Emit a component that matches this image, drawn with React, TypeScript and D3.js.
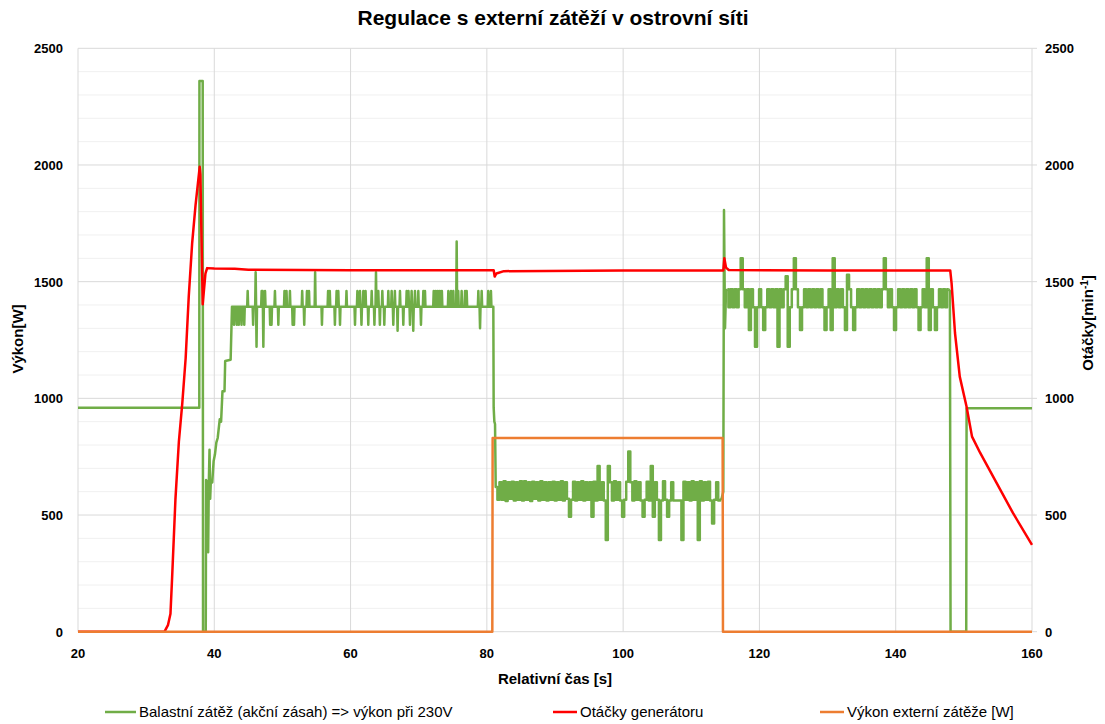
import React from 'react';
import * as d3 from 'd3';

const W = 1105;
const H = 724;

const title = 'Regulace s externí zátěží v ostrovní síti';
const xTitle = 'Relativní čas [s]';
const yTitleLeft = 'Výkon[W]';
const seriesNames = ['Balastní zátěž (akční zásah) => výkon při 230V', 'Otáčky generátoru', 'Výkon externí zátěže [W]'];

const xTicks = [20, 40, 60, 80, 100, 120, 140, 160];
const yTicks = [0, 500, 1000, 1500, 2000, 2500];

// Ballast load (green) - explicit points before/during start-up
const greenStart: [number, number][] = [
  [20, 960], [37.8, 960], [37.82, 2360], [38.3, 2360], [38.35, 0], [38.75, 0],
  [38.8, 650], [39.0, 640], [39.1, 340], [39.2, 640], [39.3, 780], [39.4, 570],
  [39.5, 650], [39.7, 640], [39.9, 730], [40.1, 760], [40.3, 810], [40.5, 830],
  [40.8, 910], [41.0, 900], [41.2, 1030], [41.5, 1030], [41.6, 1160], [42.4, 1165], [42.6, 1393],
];

// Ballast load, first regulated phase: base level and short excursions [time, value]
const phase1Base = 1393;
const phase1Events: [number, number][] = [
  [42.9, 1315], [43.3, 1315], [43.6, 1315], [44.0, 1315], [44.4, 1315], [44.9, 1460],
  [45.7, 1315], [46.07, 1540], [46.2, 1221], [46.95, 1460], [47.1, 1460], [47.2, 1221],
  [47.45, 1460], [48.2, 1315], [48.4, 1315], [48.9, 1460], [49.4, 1315], [50.3, 1460],
  [50.6, 1460], [51.1, 1460], [51.5, 1315], [51.7, 1315], [52.9, 1460], [53.2, 1315],
  [53.6, 1460], [53.9, 1460], [54.8, 1540], [55.8, 1315], [56.7, 1460], [56.95, 1460],
  [57.7, 1315], [57.95, 1460], [58.2, 1460], [58.45, 1315], [59.4, 1460], [60.65, 1315],
  [61.0, 1460], [61.38, 1460], [61.6, 1315], [61.87, 1460], [62.2, 1460], [62.6, 1315],
  [63.1, 1460], [63.5, 1315], [63.73, 1540], [64.07, 1460], [64.3, 1315], [64.66, 1460],
  [64.95, 1315], [65.54, 1460], [66.03, 1460], [66.27, 1315], [66.5, 1460], [66.9, 1290],
  [67.25, 1460], [67.74, 1315], [68.23, 1460], [68.5, 1460], [68.72, 1315], [68.96, 1460],
  [69.2, 1290], [69.45, 1460], [69.94, 1460], [70.33, 1315], [70.68, 1460], [70.92, 1460],
  [72.2, 1460], [72.5, 1460], [72.8, 1460], [73.1, 1460], [73.4, 1460], [74.35, 1460],
  [74.74, 1460], [75.08, 1460], [75.57, 1672], [75.8, 1460], [76.3, 1460], [76.8, 1460],
  [77.04, 1460], [78.75, 1460], [79.0, 1300], [79.24, 1460], [80.2, 1460], [80.6, 1460],
];

const greenTransition2: [number, number][] = [
  [80.95, 1393], [81.0, 960], [81.1, 900], [81.2, 890], [81.3, 620],
];

// Ballast load, phase with external load (sampled every 0.3 s from 81.4 s)
const phase2Start = 81.4;
const phase2Step = 0.3;
const greenPhase2 = [
  620, 565, 640, 565, 645, 560, 640, 570, 643, 562,
  640, 565, 645, 562, 645, 565, 640, 560, 643, 570,
  640, 562, 645, 565, 640, 562, 640, 565, 643, 562,
  640, 565, 645, 562, 640, 570, 493, 565, 643, 562,
  640, 565, 645, 562, 640, 565, 640, 493, 643, 562,
  710, 565, 640, 562, 393, 710, 640, 562, 645, 565,
  640, 562, 493, 565, 643, 772, 640, 562, 645, 565,
  640, 562, 493, 565, 643, 562, 710, 493, 640, 565,
  393, 562, 645, 565, 493, 562, 640, 562, 562, 562,
  562, 393, 643, 565, 640, 562, 645, 565, 640, 393,
  645, 562, 640, 565, 643, 562, 464, 565, 640, 562,
  565,
];

const greenTransition3: [number, number][] = [
  [114.7, 600], [114.8, 1807], [114.95, 1300], [115.1, 1460], [115.3, 1467],
];

// Ballast load, after external load switched off (sampled every 0.3 s from 115.3 s)
const phase3Start = 115.3;
const phase3Step = 0.3;
const greenPhase3 = [
  1467, 1390, 1467, 1390, 1467, 1390, 1467, 1600, 1467, 1390,
  1467, 1293, 1467, 1390, 1221, 1390, 1467, 1390, 1293, 1390,
  1467, 1390, 1467, 1390, 1467, 1221, 1467, 1390, 1467, 1523,
  1221, 1390, 1467, 1600, 1467, 1390, 1293, 1390, 1467, 1390,
  1467, 1390, 1467, 1390, 1467, 1390, 1467, 1390, 1293, 1390,
  1467, 1293, 1600, 1390, 1467, 1390, 1467, 1390, 1293, 1530,
  1467, 1390, 1293, 1390, 1467, 1390, 1467, 1390, 1467, 1390,
  1467, 1390, 1467, 1390, 1467, 1390, 1467, 1600, 1467, 1390,
  1467, 1390, 1293, 1390, 1467, 1390, 1467, 1390, 1467, 1390,
  1467, 1390, 1467, 1390, 1293, 1390, 1467, 1390, 1600, 1293,
  1467, 1390, 1293, 1390, 1467, 1390, 1467, 1390, 1467,
];

const greenEnd: [number, number][] = [
  [147.75, 1467], [147.95, 1460], [148.05, 0], [150.35, 0], [150.4, 957], [160, 957],
];

// Generator speed (red)
const redPoints: [number, number][] = [
  [20, 0], [32.7, 0], [33.2, 28], [33.57, 77], [33.8, 224], [34.3, 568], [34.8, 813], [35.3, 977],
  [35.8, 1173], [36.25, 1435], [36.75, 1664], [37.25, 1828], [37.86, 1992], [37.96, 1960], [38.3, 1403],
  [38.7, 1534], [38.95, 1558], [40, 1556], [43, 1555], [45, 1551], [60, 1549], [81, 1549], [81.15, 1522],
  [81.4, 1535], [82.5, 1545], [100, 1548], [114.7, 1548], [114.85, 1600], [115.1, 1560], [115.5, 1550],
  [130, 1548], [148.0, 1548], [148.2, 1493], [148.7, 1280], [149.4, 1093], [150.4, 964], [151.2, 836],
  [152.4, 766], [154.8, 638], [157.2, 509], [160, 372],
];

// External load power (orange)
const orangePoints: [number, number][] = [
  [20, 0], [80.8, 0], [80.85, 830], [114.6, 830], [114.65, 0], [160, 0],
];

const FONT = '"Liberation Sans", Arial, sans-serif';

export default function App() {
  const x = d3.scaleLinear().domain([20, 160]).range([78, 1032]);
  const y = d3.scaleLinear().domain([0, 2500]).range([631.7, 48.3]);

  const phase1Points: [number, number][] = [];
  phase1Events.forEach(([t, v]) => {
    phase1Points.push([t - 0.07, phase1Base], [t, v], [t + 0.07, phase1Base]);
  });

  const greenLinear: [number, number][] = [
    ...greenStart,
    ...phase1Points,
    ...greenTransition2,
    [phase2Start, greenPhase2[0]],
  ];
  const band2: [number, number][] = greenPhase2.map((v, i) => [phase2Start + i * phase2Step, v]);
  const link23: [number, number][] = [band2[band2.length - 1], ...greenTransition3];
  const band3: [number, number][] = greenPhase3.map((v, i) => [phase3Start + i * phase3Step, v]);
  const tail: [number, number][] = [band3[band3.length - 1], ...greenEnd];

  const line = d3.line<[number, number]>().x((d) => x(d[0])).y((d) => y(d[1]));
  const stepLine = d3.line<[number, number]>().x((d) => x(d[0])).y((d) => y(d[1])).curve(d3.curveStep);
  const minor = d3.range(100, 2500, 100).filter((v) => v % 500 !== 0);

  const [x0, x1] = x.range();
  const [yb, yt] = y.range();
  const green = '#70ad47';

  return (
    <svg width={W} height={H} style={{ position: 'absolute', left: 0, top: 0, background: '#fff' }} fontFamily={FONT}>
      <rect x={0} y={0} width={W} height={H} fill="#fff" />
      {minor.map((v) => (
        <line key={'m' + v} x1={x0} x2={x1} y1={y(v)} y2={y(v)} stroke="#f0f0f0" strokeWidth={1} />
      ))}
      {yTicks.map((v) => (
        <line key={'g' + v} x1={x0} x2={x1} y1={y(v)} y2={y(v)} stroke="#d9d9d9" strokeWidth={1} />
      ))}
      {xTicks.map((v) => (
        <line key={'v' + v} x1={x(v)} x2={x(v)} y1={yt} y2={yb} stroke="#d9d9d9" strokeWidth={1} />
      ))}
      {yTicks.map((v) => (
        <line key={'rt' + v} x1={x1} x2={x1 + 5} y1={y(v)} y2={y(v)} stroke="#d9d9d9" strokeWidth={1} />
      ))}

      <g fill="none" stroke={green} strokeWidth={2.5} strokeLinejoin="round">
        <path d={line(greenLinear) || ''} />
        <path d={stepLine(band2) || ''} />
        <path d={line(link23) || ''} />
        <path d={stepLine(band3) || ''} />
        <path d={line(tail) || ''} />
      </g>
      <path d={line(redPoints) || ''} fill="none" stroke="#ff0000" strokeWidth={2.5} strokeLinejoin="round" />
      <path d={line(orangePoints) || ''} fill="none" stroke="#ed7d31" strokeWidth={2.5} strokeLinejoin="round" />

      <text x={553} y={25} textAnchor="middle" fontSize={21} fontWeight="bold" fill="#000">{title}</text>

      {yTicks.map((v) => (
        <text key={'yl' + v} x={63} y={y(v) + 5} textAnchor="end" fontSize={13} fontWeight="bold" fill="#000">{v}</text>
      ))}
      {yTicks.map((v) => (
        <text key={'yr' + v} x={1045} y={y(v) + 5} textAnchor="start" fontSize={13} fontWeight="bold" fill="#000">{v}</text>
      ))}
      {xTicks.map((v) => (
        <text key={'xl' + v} x={x(v)} y={658} textAnchor="middle" fontSize={13} fontWeight="bold" fill="#000">{v}</text>
      ))}

      <text x={555} y={684} textAnchor="middle" fontSize={15} fontWeight="bold" fill="#000">{xTitle}</text>
      <text transform={`translate(23,339) rotate(-90)`} textAnchor="middle" fontSize={15} fontWeight="bold" fill="#000">{yTitleLeft}</text>
      <text transform={`translate(1093,323) rotate(-90)`} textAnchor="middle" fontSize={15} fontWeight="bold" fill="#000">
        Otáčky[min<tspan dy={-5} fontSize={10}>-1</tspan><tspan dy={5}>]</tspan>
      </text>

      {[
        { c: green, lx: 105, tx: 139 },
        { c: '#ff0000', lx: 553, tx: 580 },
        { c: '#ed7d31', lx: 820, tx: 847 },
      ].map((l, i) => (
        <g key={'lg' + i}>
          <line x1={l.lx} x2={l.tx - 3} y1={712} y2={712} stroke={l.c} strokeWidth={2.5} />
          <text x={l.tx} y={717} fontSize={15} fill="#000">{seriesNames[i]}</text>
        </g>
      ))}
    </svg>
  );
}
